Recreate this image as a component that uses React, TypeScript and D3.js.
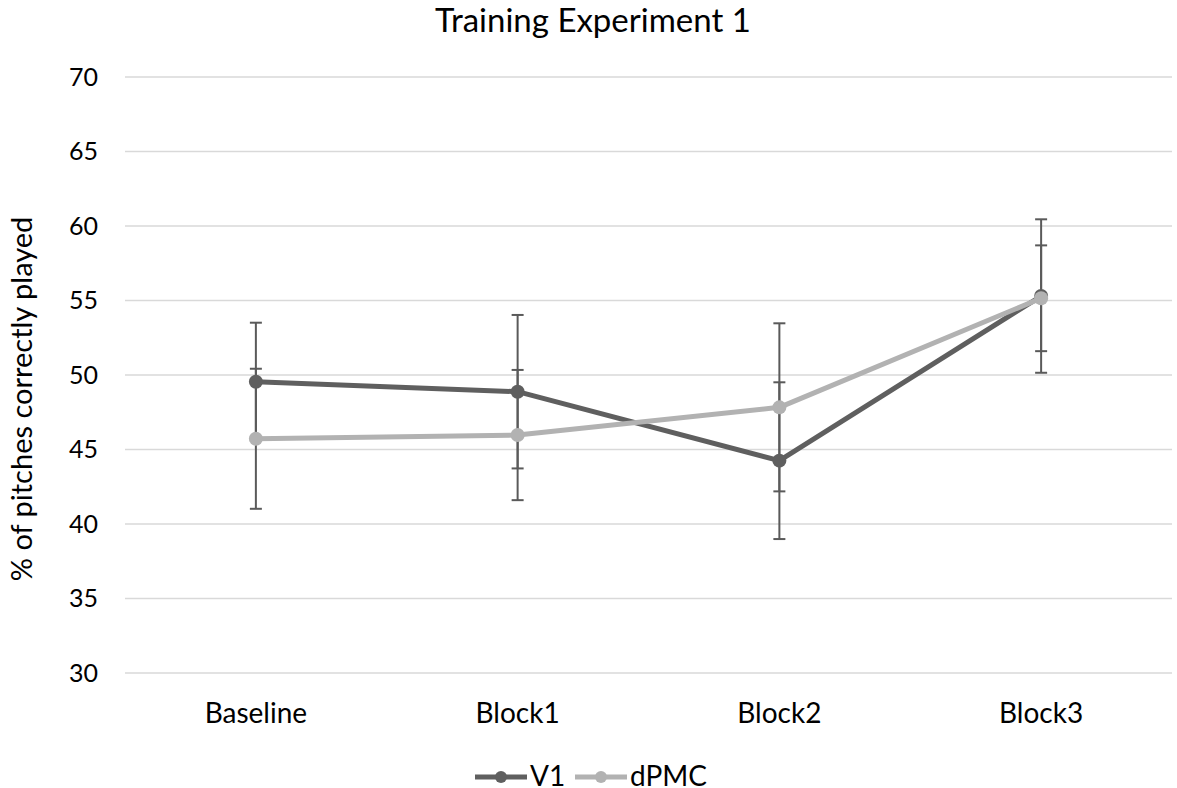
import React from "react";
import * as d3 from "d3";

const categories = ["Baseline", "Block1", "Block2", "Block3"];
const v1Values = [49.55, 48.88, 44.25, 55.3];
const v1Errors = [3.96, 5.15, 5.26, 5.15];
const dpmcValues = [45.72, 45.97, 47.83, 55.15];
const dpmcErrors = [4.7, 4.37, 5.64, 3.55];
const yTicks = [30, 35, 40, 45, 50, 55, 60, 65, 70];

const series = [
    { name: "V1", values: v1Values, errors: v1Errors, color: "#5f5f5f" },
    { name: "dPMC", values: dpmcValues, errors: dpmcErrors, color: "#b2b2b2" },
];

const FONT = "Lato, 'Open Sans', sans-serif";

export default function App() {
    const width = 1177;
    const height = 788;
    const marginLeft = 125;
    const marginRight = 5;
    const marginTop = 77;
    const plotBottom = 673;

    const x = d3.scaleBand()
        .domain(categories)
        .range([marginLeft, width - marginRight]);

    const y = d3.scaleLinear()
        .domain([30, 70])
        .range([plotBottom, marginTop]);

    const cx = (c: string) => (x(c) as number) + x.bandwidth() / 2;

    const line = d3.line<number>()
        .x((d, i) => cx(categories[i]))
        .y((d) => y(d));

    // legend item starts (line start x)
    const legendX = [475, 575];

    return (
        <svg
            width={width}
            height={height}
            style={{ position: "absolute", left: 0, top: 0, background: "#fff" }}
        >
            <text x={593} y={32} textAnchor="middle" fontFamily={FONT} fontSize={33} fill="#000">
                Training Experiment 1
            </text>

            {/* gridlines + tick labels */}
            {yTicks.map((t) => (
                <g key={t}>
                    <line
                        x1={marginLeft}
                        x2={width - marginRight}
                        y1={y(t)}
                        y2={y(t)}
                        stroke="#d9d9d9"
                        strokeWidth={1.5}
                    />
                    <text
                        x={98}
                        y={y(t)}
                        dy="0.35em"
                        textAnchor="end"
                        fontFamily={FONT}
                        fontSize={25}
                        fill="#000"
                    >
                        {t}
                    </text>
                </g>
            ))}

            <text
                transform="translate(32,399) rotate(-90)"
                textAnchor="middle"
                fontFamily={FONT}
                fontSize={29}
                fill="#000"
            >
                % of pitches correctly played
            </text>

            {categories.map((c) => (
                <text
                    key={c}
                    x={cx(c)}
                    y={723}
                    textAnchor="middle"
                    fontFamily={FONT}
                    fontSize={28}
                    fill="#000"
                >
                    {c}
                </text>
            ))}

            {/* lines */}
            {series.map((s) => (
                <path
                    key={s.name}
                    d={line(s.values) as string}
                    fill="none"
                    stroke={s.color}
                    strokeWidth={5}
                    strokeLinejoin="round"
                />
            ))}

            {/* error bars */}
            {series.map((s) =>
                s.values.map((v, i) => {
                    const px = cx(categories[i]);
                    const lo = y(v - s.errors[i]);
                    const hi = y(v + s.errors[i]);
                    return (
                        <g key={s.name + i} stroke="#5a5a5a" strokeWidth={2}>
                            <line x1={px} x2={px} y1={lo} y2={hi} />
                            <line x1={px - 6} x2={px + 6} y1={lo} y2={lo} />
                            <line x1={px - 6} x2={px + 6} y1={hi} y2={hi} />
                        </g>
                    );
                })
            )}

            {/* markers */}
            {series.map((s) =>
                s.values.map((v, i) => (
                    <circle
                        key={s.name + "m" + i}
                        cx={cx(categories[i])}
                        cy={y(v)}
                        r={7}
                        fill={s.color}
                    />
                ))
            )}

            {/* legend */}
            {series.map((s, i) => {
                const lx = legendX[i];
                return (
                    <g key={s.name + "leg"}>
                        <line x1={lx} x2={lx + 52} y1={777} y2={777} stroke={s.color} strokeWidth={5} />
                        <circle cx={lx + 26} cy={777} r={6} fill={s.color} />
                        <text x={lx + 55} y={786} fontFamily={FONT} fontSize={28} fill="#000">
                            {s.name}
                        </text>
                    </g>
                );
            })}
        </svg>
    );
}
